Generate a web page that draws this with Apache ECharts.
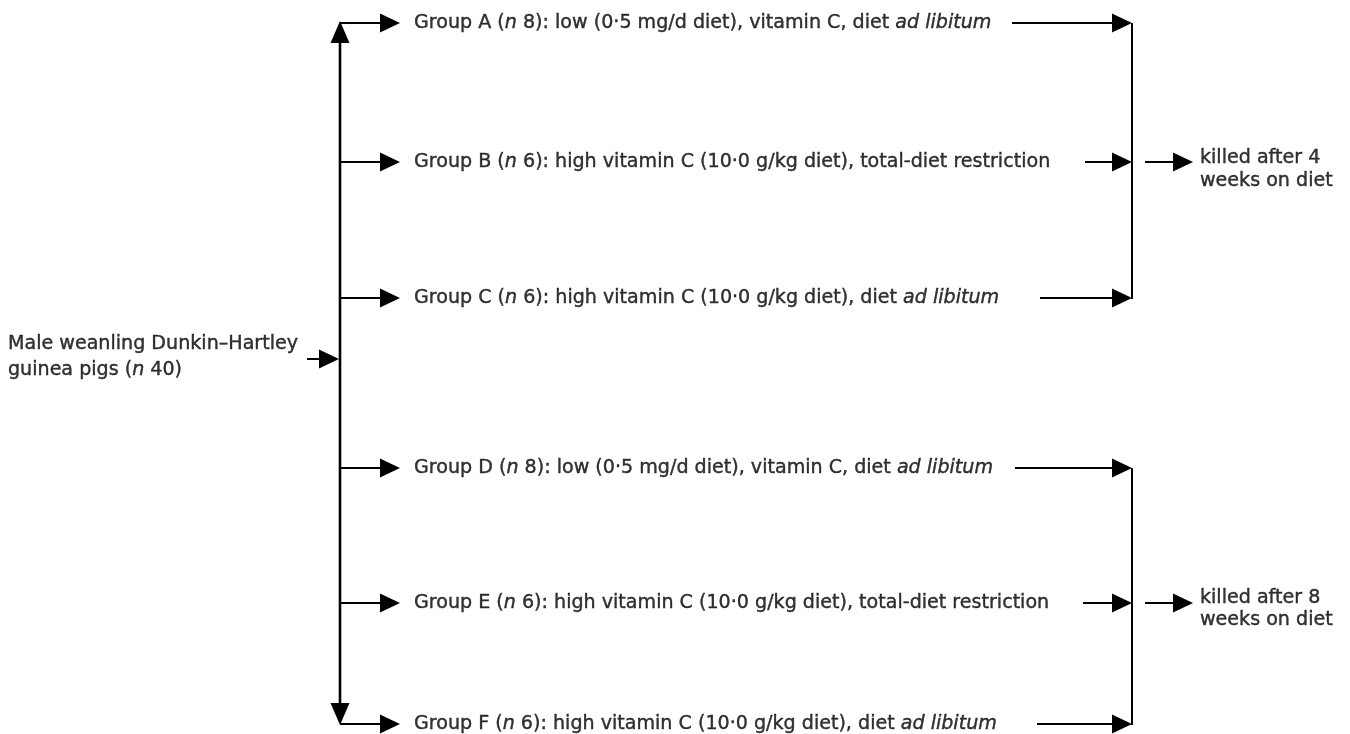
<!DOCTYPE html>
<html>
<head>
<meta charset="utf-8">
<script src="https://cdn.jsdelivr.net/npm/echarts@6/dist/echarts.min.js"></script>
<style>
  html, body { margin: 0; padding: 0; background: #fff; }
  #chart { width: 1350px; height: 734px; }
</style>
</head>
<body>
<div id="chart"></div>
<script>
// text of the flow diagram
const groupIds = ['A', 'B', 'C', 'D', 'E', 'F'];
const groupN = [8, 6, 6, 8, 6, 6];
const groupDiets = [
    'low (0·5 mg/d diet), vitamin C, diet {i|ad libitum}',
    'high vitamin C (10·0 g/kg diet), total-diet restriction',
    'high vitamin C (10·0 g/kg diet), diet {i|ad libitum}',
    'low (0·5 mg/d diet), vitamin C, diet {i|ad libitum}',
    'high vitamin C (10·0 g/kg diet), total-diet restriction',
    'high vitamin C (10·0 g/kg diet), diet {i|ad libitum}'
];
const sourceText = 'Male weanling Dunkin–Hartley\nguinea pigs ({i|n} 40)';
const outcomeText = ['killed after 4\nweeks on diet', 'killed after 8\nweeks on diet'];

// layout, in pixels of the 1350 x 734 page (hidden value axes)
const rowY = [23, 162, 298, 468, 603, 724];
const rightStartX = [1012, 1085, 1040, 1015, 1083, 1037];
const trunkX = 340;
const sourceY = 359;
const branchTipX = 400;
const textX = 414;
const bracketX = 1132;
const outStartX = 1145;
const outTipX = 1193;

const FONT = 'DejaVu Sans';
const FONT_SIZE = 19.1;
const INK = '#000';

// arrows: [x1, y1, x2, y2, headLength, headWidth, lineWidth]
const arrows = [];
arrows.push([307, sourceY, trunkX - 1, sourceY, 20, 19, 2]);
arrows.push([trunkX, sourceY, trunkX, rowY[0] - 2, 22, 19, 2.6]);
arrows.push([trunkX, sourceY, trunkX, rowY[5] + 1, 22, 19, 2.6]);
rowY.forEach((y, i) => {
    arrows.push([trunkX, y, branchTipX, y, 20, 19, 2]);
    arrows.push([rightStartX[i], y, bracketX, y, 20, 19, 2]);
});
// brackets joining the groups
arrows.push([bracketX, rowY[0], bracketX, rowY[2] + 1, 0, 0, 2]);
arrows.push([bracketX, rowY[3], bracketX, rowY[5] + 1, 0, 0, 2]);
// outcome arrows
arrows.push([outStartX, rowY[1], outTipX, rowY[1], 20, 19, 2]);
arrows.push([outStartX, rowY[4], outTipX, rowY[4], 20, 19, 2]);

const labels = [];
groupIds.forEach((id, i) => {
    labels.push({
        value: [textX, rowY[i]],
        name: 'Group ' + id + ' ({i|n} ' + groupN[i] + '): ' + groupDiets[i]
    });
});
labels.push({ value: [8, 357], name: sourceText, label: { lineHeight: 26 } });
labels.push({ value: [1200, rowY[1] + 8], name: outcomeText[0], label: { lineHeight: 23 } });
labels.push({ value: [1200, rowY[4] + 6], name: outcomeText[1], label: { lineHeight: 22 } });

function renderArrow(params, api) {
    const p1 = api.coord([api.value(0), api.value(1)]);
    const p2 = api.coord([api.value(2), api.value(3)]);
    const hl = api.value(4);
    const hw = api.value(5);
    const lw = api.value(6);
    const dx = p2[0] - p1[0];
    const dy = p2[1] - p1[1];
    const len = Math.sqrt(dx * dx + dy * dy) || 1;
    const ux = dx / len;
    const uy = dy / len;
    const bx = p2[0] - ux * hl;
    const by = p2[1] - uy * hl;
    const children = [{
        type: 'line',
        shape: {
            x1: p1[0], y1: p1[1],
            x2: hl ? bx + ux * 2 : p2[0], y2: hl ? by + uy * 2 : p2[1]
        },
        style: { stroke: INK, lineWidth: lw }
    }];
    if (hl > 0) {
        children.push({
            type: 'polygon',
            shape: {
                points: [
                    [p2[0], p2[1]],
                    [bx - uy * hw / 2, by + ux * hw / 2],
                    [bx + uy * hw / 2, by - ux * hw / 2]
                ]
            },
            style: { fill: INK }
        });
    }
    return { type: 'group', children: children };
}

const chart = echarts.init(document.getElementById('chart'));
chart.setOption({
    animation: false,
    backgroundColor: '#fff',
    grid: { left: 0, right: 0, top: 0, bottom: 0 },
    xAxis: { type: 'value', min: 0, max: 1350, show: false },
    yAxis: { type: 'value', min: 0, max: 734, inverse: true, show: false },
    series: [
        {
            type: 'custom',
            silent: true,
            renderItem: renderArrow,
            data: arrows
        },
        {
            type: 'scatter',
            silent: true,
            symbolSize: 0,
            data: labels,
            label: {
                show: true,
                position: 'right',
                distance: 0,
                color: INK,
                fontFamily: FONT,
                fontSize: FONT_SIZE,
                textBorderColor: INK,
                textBorderWidth: 0.4,
                formatter: p => p.name,
                rich: {
                    i: {
                        fontStyle: 'italic', fontFamily: FONT, fontSize: FONT_SIZE, color: INK,
                        textBorderColor: INK, textBorderWidth: 0.4
                    }
                }
            }
        }
    ]
});
</script>
</body>
</html>
